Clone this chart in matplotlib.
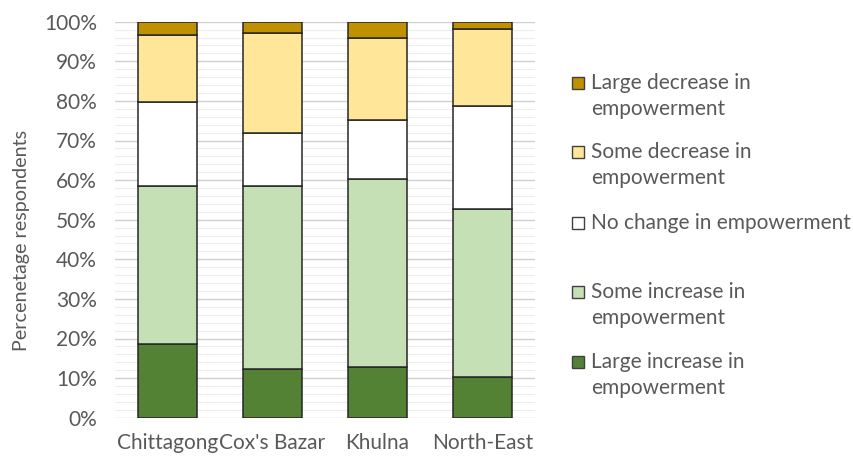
import matplotlib
matplotlib.use("Agg")
import matplotlib.pyplot as plt
from matplotlib.patches import Rectangle
import numpy as np

plt.rcParams['font.family'] = ['Lato', 'DejaVu Sans']

regions = ["Chittagong", "Cox's Bazar", "Khulna", "North-East"]
large_increase = [18.6, 12.4, 12.7, 10.3]
some_increase = [39.8, 46.1, 47.7, 42.4]
no_change = [21.2, 13.5, 14.9, 25.9]
some_decrease = [17.1, 25.1, 20.6, 19.6]
large_decrease = [3.3, 2.9, 4.1, 1.8]

series = [
    ("Large increase in\nempowerment", large_increase, "#548235"),
    ("Some increase in\nempowerment", some_increase, "#C5E0B4"),
    ("No change in empowerment", no_change, "#FFFFFF"),
    ("Some decrease in\nempowerment", some_decrease, "#FFE699"),
    ("Large decrease in\nempowerment", large_decrease, "#BF9000"),
]

TXT = "#595959"
W, H = 854, 459
fig = plt.figure(figsize=(W / 100, H / 100), dpi=100)
ax = fig.add_axes([115 / W, 1 - 417.7 / H, (535 - 115) / W, (417.7 - 21.7) / H])

x = np.arange(len(regions))
bottom = np.zeros(len(regions))
for label, vals, color in series:
    ax.bar(x, vals, bottom=bottom, width=0.565, color=color,
           edgecolor="#262626", linewidth=1.1, zorder=3)
    bottom += np.array(vals)

ax.set_ylim(0, 100)
ax.set_xlim(-0.5, len(regions) - 0.5)
ax.set_yticks(np.arange(0, 101, 10))
ax.set_yticklabels([f"{v}%" for v in range(0, 101, 10)], fontsize=15, color=TXT)
ax.set_yticks(np.arange(0, 101, 2), minor=True)
ax.set_xticks(x)
ax.set_xticklabels(regions, fontsize=15, color=TXT)
ax.tick_params(axis='both', which='both', length=0)
ax.tick_params(axis='x', pad=11)
ax.tick_params(axis='y', pad=13)
ax.grid(axis='y', which='major', color="#D0D0D0", linewidth=1.0, zorder=0)
ax.grid(axis='y', which='minor', color="#EDEDED", linewidth=0.8, zorder=0)
for s in ax.spines.values():
    s.set_visible(False)
fig.text(22 / W, 1 - 240 / H, "Percenetage respondents", fontsize=14.2, color=TXT,
         rotation=90, ha="center", va="center")

# legend (manual, top to bottom)
legend_centers = [83, 152, 223, 292, 362]
for (label, vals, color), yc in zip(reversed(series), legend_centers):
    fig.patches.append(Rectangle((572 / W, 1 - (yc + 6) / H), 12 / W, 12 / H,
                                 transform=fig.transFigure, facecolor=color,
                                 edgecolor="#404040", linewidth=1.0))
    for i, line in enumerate(label.split("\n")):
        fig.text(591 / W, 1 - (yc + 26 * i) / H, line, fontsize=15, color=TXT,
                 va="center", ha="left")

fig.savefig("out.png", dpi=100)
